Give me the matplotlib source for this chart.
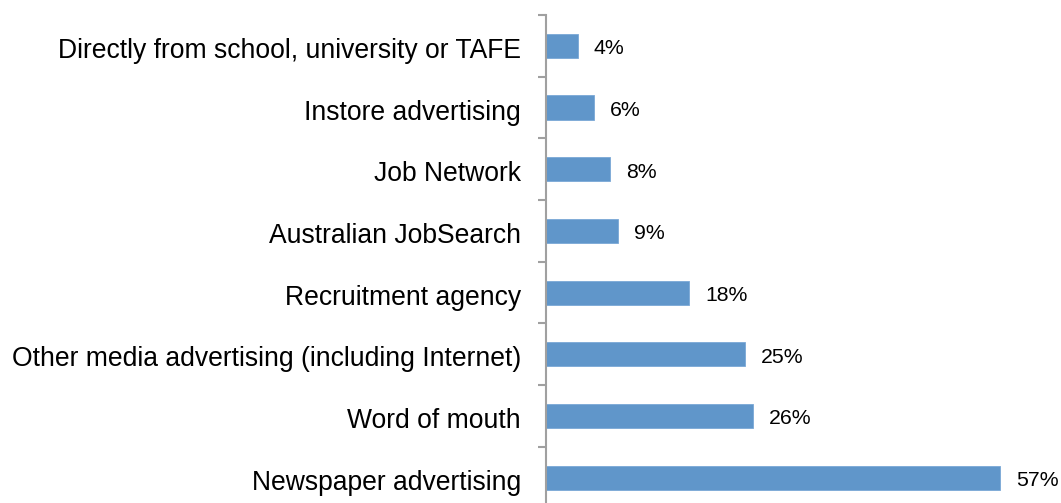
import matplotlib
matplotlib.use("Agg")
import matplotlib.pyplot as plt
import matplotlib.transforms as mtransforms
from matplotlib.ticker import FixedLocator

plt.rcParams['font.family'] = ['Liberation Sans', 'DejaVu Sans']

categories = [
    "Directly from school, university or TAFE",
    "Instore advertising",
    "Job Network",
    "Australian JobSearch",
    "Recruitment agency",
    "Other media advertising (including Internet)",
    "Word of mouth",
    "Newspaper advertising",
]
values = [4, 6, 8, 9, 18, 25, 26, 57]

W, H = 1061, 503
fig = plt.figure(figsize=(W / 100, H / 100), dpi=100)
left, top, bottom_px = 546, 15, 508.4
ax = fig.add_axes([left / W, (H - bottom_px) / H, (W - left) / W, (bottom_px - top) / H])

n = len(categories)
pos = list(range(n))
bar_color = "#6096CA"
ax.barh(pos, values, height=0.39, color=bar_color, edgecolor="#7AA8D6", linewidth=0.6)

px_per_unit = 7.96
ax.set_xlim(0, (W - left) / px_per_unit)
ax.set_ylim(n - 0.5, -0.5)

for y, v in zip(pos, values):
    ax.annotate(f"{v}%", xy=(v, y), xytext=(16, -3), textcoords="offset pixels",
                va="center", ha="left", fontsize=15.3, color="black")

for s in ["top", "right", "bottom"]:
    ax.spines[s].set_visible(False)
ax.spines["left"].set_color("#A0A0A0")
ax.spines["left"].set_linewidth(1.5)

ax.set_xticks([])
ax.set_yticks(pos)
ax.set_yticklabels(categories, fontsize=19.1)
ax.tick_params(axis="y", which="major", length=0, pad=18)
ax.yaxis.set_minor_locator(FixedLocator([i - 0.5 for i in range(n + 1)]))
ax.tick_params(axis="y", which="minor", length=5.8, width=1.5, color="#A0A0A0", direction="out")

# nudge category labels slightly downward
shift = mtransforms.ScaledTranslation(0, -2 / 100, fig.dpi_scale_trans)
for lbl in ax.get_yticklabels():
    lbl.set_transform(lbl.get_transform() + shift)

fig.savefig("out.png", dpi=100)
